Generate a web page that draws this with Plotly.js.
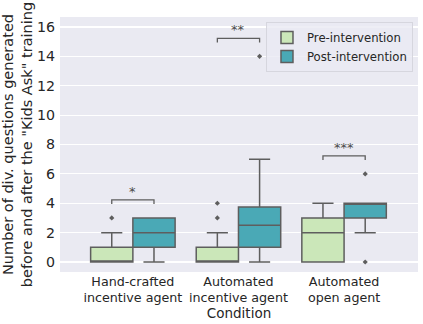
<!DOCTYPE html>
<html>
<head>
<meta charset="utf-8">
<script src="https://cdn.plot.ly/plotly-3.0.1.min.js"></script>
<style>
  html, body { margin: 0; padding: 0; background: #ffffff; }
  #chart { width: 423px; height: 324px; }
</style>
</head>
<body>
<div id="chart"></div>
<script>
// Diverse questions per condition, before / after the "Kids Ask" training
const categories = ['Hand-crafted<br>incentive agent', 'Automated<br>incentive agent', 'Automated<br>open agent'];

// Pre-intervention box stats
const preQ1 = [0, 0, 0];
const preMedian = [0, 0, 2];
const preQ3 = [1, 1, 3];
const preLower = [0, 0, 0];
const preUpper = [2, 2, 4];
const preOutliers = [[3], [3, 4], []];

// Post-intervention box stats
const postQ1 = [1, 1, 3];
const postMedian = [2, 2.5, 4];
const postQ3 = [3, 3.75, 4];
const postLower = [0, 0, 2];
const postUpper = [3, 7, 4];
const postOutliers = [[], [14], [0, 6]];

const significance = ['*', '**', '***'];

const lineGray = '#5e5e5e';
const preColor = '#cbe7b9';
const postColor = '#4aa9b6';
const boxWidth = 0.4;
const idx = categories.map((c, i) => i);

function boxTrace(name, off, color, q1, med, q3, lo, hi) {
    return {
        type: 'box', name: name,
        x: idx.map(i => i + off),
        q1: q1, median: med, q3: q3, lowerfence: lo, upperfence: hi,
        width: boxWidth, whiskerwidth: 0.5, boxpoints: false,
        fillcolor: color, line: { color: lineGray, width: 1.5 },
        hoverinfo: 'skip'
    };
}

function outlierTrace(off, outliers) {
    const xs = [], ys = [];
    outliers.forEach((vals, i) => vals.forEach(v => { xs.push(i + off); ys.push(v); }));
    return {
        type: 'scatter', mode: 'markers', x: xs, y: ys, showlegend: false,
        marker: { symbol: 'diamond', size: 4, color: lineGray }, hoverinfo: 'skip'
    };
}

const traces = [
    boxTrace('Pre-intervention', -boxWidth / 2, preColor, preQ1, preMedian, preQ3, preLower, preUpper),
    boxTrace('Post-intervention', boxWidth / 2, postColor, postQ1, postMedian, postQ3, postLower, postUpper),
    outlierTrace(-boxWidth / 2, preOutliers),
    outlierTrace(boxWidth / 2, postOutliers)
];

// significance brackets sit a little above the highest point of each pair
const shapes = [];
const annotations = [];
idx.forEach(i => {
    const top = Math.max(preUpper[i], postUpper[i], ...preOutliers[i], ...postOutliers[i]);
    const yb = top + 1.23;
    const x0 = i - boxWidth / 2, x1 = i + boxWidth / 2;
    shapes.push({
        type: 'path', xref: 'x', yref: 'y',
        path: `M ${x0},${yb - 0.28} L ${x0},${yb} L ${x1},${yb} L ${x1},${yb - 0.28}`,
        line: { color: lineGray, width: 1.3 }
    });
    annotations.push({
        x: i, y: yb - 0.05, xref: 'x', yref: 'y', text: significance[i],
        showarrow: false, yanchor: 'bottom',
        font: { family: 'DejaVu Sans', size: 13, color: '#4a4a4a' }
    });
});

const layout = {
    width: 423, height: 324,
    margin: { l: 60, r: 5, t: 17, b: 52 },
    paper_bgcolor: '#ffffff',
    plot_bgcolor: '#eaeaf2',
    font: { family: 'DejaVu Sans', size: 13, color: '#262626' },
    showlegend: true,
    legend: {
        x: 0.986, y: 0.98, xanchor: 'right', yanchor: 'top',
        bgcolor: 'rgba(234,234,242,0.8)', bordercolor: '#d6d6de', borderwidth: 1,
        font: { size: 11.7, color: '#262626' }, tracegroupgap: 0
    },
    xaxis: {
        range: [-0.69, 2.7], tickvals: idx, ticktext: categories,
        showgrid: false, zeroline: false, showline: false, ticks: '',
        tickfont: { size: 12.7 },
        title: { text: 'Condition', font: { size: 13.5 }, standoff: 2 }
    },
    yaxis: {
        range: [-0.68, 16.68], tickvals: [0, 2, 4, 6, 8, 10, 12, 14, 16],
        showgrid: true, gridcolor: '#ffffff', gridwidth: 1.2,
        zeroline: false, showline: false, ticks: '', ticklabelstandoff: 4,
        tickfont: { size: 14.2 },
        title: { text: 'Number of div. questions generated<br>before and after the "Kids Ask" training', font: { size: 14.5 }, standoff: 5 }
    },
    shapes: shapes,
    annotations: annotations
};

Plotly.newPlot('chart', traces, layout, { displayModeBar: false, staticPlot: true });
</script>
</body>
</html>
